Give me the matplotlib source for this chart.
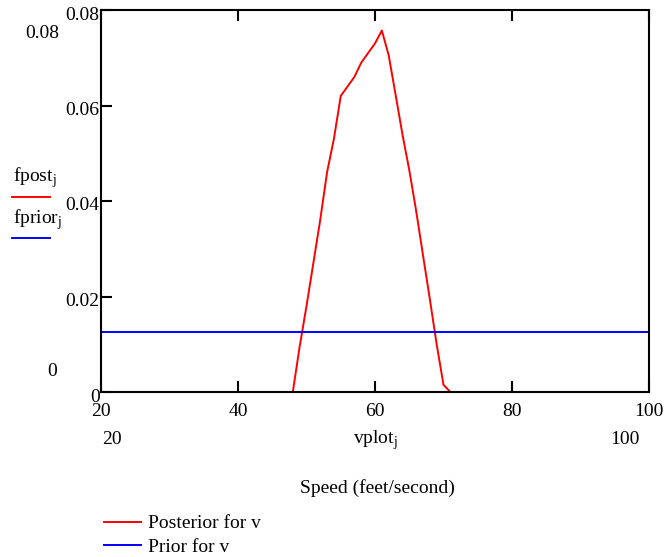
import numpy as np
import matplotlib

matplotlib.use('Agg')

from matplotlib import rcParams

rcParams['font.family'] = 'Liberation Serif'
rcParams['mathtext.fontset'] = 'custom'
rcParams['mathtext.rm'] = 'Liberation Serif'

import matplotlib.pyplot as plt
from matplotlib.lines import Line2D
from matplotlib.transforms import ScaledTranslation

# speed grid (feet/second) and posterior density
speed_post = [20, 48, 49, 50, 51, 52, 53, 54, 55, 56, 57, 58, 59, 60, 61,
              62, 63, 64, 65, 66, 67, 68, 69, 70, 71, 100]
fpost = [0, 0, 0.0095, 0.018, 0.027, 0.036, 0.046, 0.053, 0.062, 0.064,
         0.066, 0.069, 0.071, 0.073, 0.0757, 0.0705, 0.0623, 0.054, 0.0465,
         0.038, 0.0287, 0.0195, 0.010, 0.0015, 0, 0]

# flat prior over 20..100
speed_prior = [20, 100]
fprior = [0.0125, 0.0125]

xticks = [20, 40, 60, 80, 100]
yticks = [0, 0.02, 0.04, 0.06, 0.08]

W, H = 669, 557
fig = plt.figure(figsize=(W / 100, H / 100), dpi=100)
ax = fig.add_axes([101 / W, 1 - 392 / H, (649 - 101) / W, (392 - 10) / H])

post_line, = ax.plot(speed_post, fpost, color='#ff0000', lw=1.4, label='Posterior for v')
prior_line, = ax.plot(speed_prior, fprior, color='#0000ff', lw=1.4, label='Prior for v')

ax.set_xlim(20, 100)
ax.set_ylim(0, 0.08)
ax.set_xticks(xticks)
ax.set_xticklabels([str(t) for t in xticks])
ax.set_yticks(yticks)
ax.set_yticklabels(['0', '0.02', '0.04', '0.06', '0.08'])
ax.tick_params(direction='in', length=8, width=1.5, labelsize=14, colors='black')
ax.tick_params(axis='x', top=True, pad=8)
ax.tick_params(axis='y', pad=1)
# Mathcad puts the y labels a touch below their ticks
shift = ScaledTranslation(0, -3 / 100, fig.dpi_scale_trans)
for lab in ax.get_yticklabels():
    lab.set_transform(lab.get_transform() + shift)
for s in ax.spines.values():
    s.set_linewidth(1.5)


def ftext(x, y, s, **kw):
    # place text by pixel position in the figure
    fig.text(x / W, 1 - y / H, s, fontsize=14, **kw)


# Mathcad style axis limit labels
ftext(42, 33, '0.08', ha='center', va='center')
ftext(52, 372, '0', ha='center', va='center')
ftext(112, 440, '20', ha='center', va='center')
ftext(625, 440, '100', ha='center', va='center')
ftext(375, 440, r'vplot$_\mathregular{j}$', ha='center', va='center')
ftext(377, 488, 'Speed (feet/second)', ha='center', va='center')

ftext(13, 178, r'fpost$_\mathregular{j}$', ha='left', va='center')
ftext(13, 220, r'fprior$_\mathregular{j}$', ha='left', va='center')
fig.add_artist(Line2D([12 / W, 50 / W], [1 - 197 / H, 1 - 197 / H], color='#ff0000', lw=1.4))
fig.add_artist(Line2D([12 / W, 50 / W], [1 - 238 / H, 1 - 238 / H], color='#0000ff', lw=1.4))

fig.legend(handles=[post_line, prior_line], loc='upper left',
           bbox_to_anchor=(94 / W, 1 - 505 / H), frameon=False, fontsize=14,
           handlelength=1.9, handletextpad=0.4, labelspacing=0.3, borderpad=0)

plt.savefig('out.png', dpi=100)
